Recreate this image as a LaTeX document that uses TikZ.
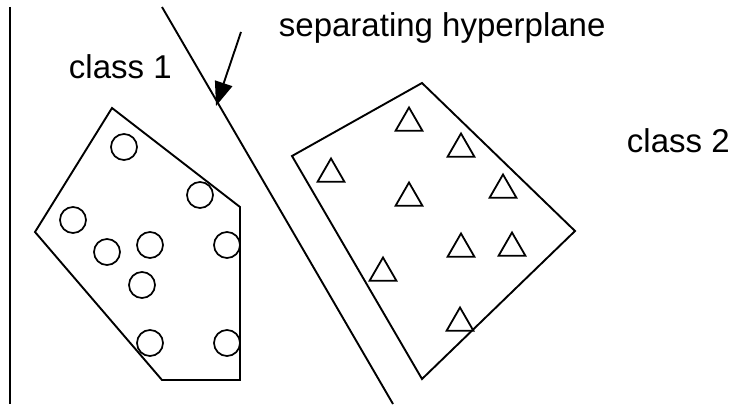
\documentclass[tikz,border=0pt]{standalone}
\usepackage{fontspec}
\setmainfont{Liberation Sans}
\usetikzlibrary{arrows.meta,shapes.geometric}

\tikzset{
  pt/.style={circle, draw, line width=1.7pt, minimum size=26pt, inner sep=0pt},
  tri/.style={regular polygon, regular polygon sides=3, draw, line width=1.8pt,
    minimum size=31pt, inner sep=0pt},
  lbl/.style={anchor=base west, inner sep=0pt, font=\fontsize{33}{39}\selectfont}
}

\begin{document}
\begin{tikzpicture}[x=1pt,y=-1pt,line width=1.9pt]
  \useasboundingbox (0,0) rectangle (733,404);

  % axis on the left
  \draw (10,7) -- (10,404);

  % separating hyperplane
  \coordinate (h1) at (162,7);
  \coordinate (h2) at (393,404);
  \draw (h1) -- (h2);
  \coordinate (tail) at (241,32);
  \coordinate (tip) at (216,106);
  \draw[-{Triangle[length=24pt,width=18pt]}] (tail) -- (tip);

  % labels
  \node[lbl] (hyp) at (278,37) {separating hyperplane};
  \node[lbl] (cls1) at (68,78) {class 1};
  \node[lbl] (cls2) at (626,152) {class 2};

  % class 1 (circles)
  \draw (35,232) -- (112,108) -- (240,207) -- (240,380) -- (162,380) -- cycle;
  \node[pt] (c1) at (124,147) {};
  \node[pt] (c2) at (200,195) {};
  \node[pt] (c3) at (73,220) {};
  \node[pt] (c4) at (107,252) {};
  \node[pt] (c5) at (150,245) {};
  \node[pt] (c6) at (227,245) {};
  \node[pt] (c7) at (142,285) {};
  \node[pt] (c8) at (150,343) {};
  \node[pt] (c9) at (227,343) {};

  % class 2 (triangles)
  \draw (292,156) -- (422,83) -- (575,231) -- (422,379) -- cycle;
  \node[tri] (t1) at (409,123) {};
  \node[tri] (t2) at (461,149) {};
  \node[tri] (t3) at (331,174) {};
  \node[tri] (t4) at (409,198) {};
  \node[tri] (t5) at (503,190) {};
  \node[tri] (t6) at (461,249) {};
  \node[tri] (t7) at (512,248) {};
  \node[tri] (t8) at (383,273) {};
  \node[tri] (t9) at (460,323) {};

\end{tikzpicture}
\end{document}
